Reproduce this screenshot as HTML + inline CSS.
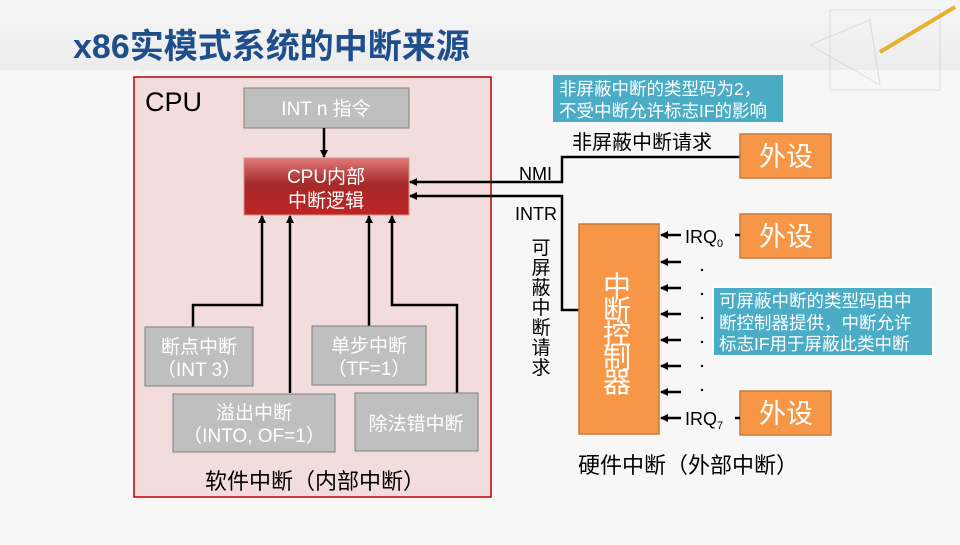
<!DOCTYPE html>
<html><head><meta charset="utf-8"><style>
html,body{margin:0;padding:0}
body{width:960px;height:540px;background:#f7f7f7;overflow:hidden;font-family:"Liberation Sans","Noto Sans CJK SC",sans-serif}
svg text{font-family:"Liberation Sans","Noto Sans CJK SC",sans-serif}
</style></head><body>
<svg width="960" height="540" viewBox="0 0 960 540" xmlns="http://www.w3.org/2000/svg">
<defs>
<linearGradient id="top" x1="0" y1="0" x2="0" y2="1"><stop offset="0" stop-color="#f6f6f6"/><stop offset="1" stop-color="#ececec"/></linearGradient>
<linearGradient id="red" x1="0" y1="0" x2="0" y2="1"><stop offset="0" stop-color="#e07a7a"/><stop offset="0.45" stop-color="#a52a2a"/><stop offset="1" stop-color="#c02424"/></linearGradient>
<marker id="ah" markerWidth="8" markerHeight="8" refX="7" refY="4" orient="auto" markerUnits="userSpaceOnUse"><path d="M0,0 L8,4 L0,8 z" fill="#000"/></marker>
</defs>
<rect x="0" y="0" width="960" height="70" fill="url(#top)"/>
<g opacity="0.25" stroke="#999" fill="none">
<path d="M810,45 L870,20 L880,85 z"/><rect x="830" y="10" width="110" height="80"/>
</g>
<line x1="880" y1="52" x2="955" y2="7" stroke="#e8b030" stroke-width="4"/>
<text x="73" y="58" font-size="34" font-weight="bold" fill="#1f4e8c">x86实模式系统的中断来源</text>

<rect x="134" y="77" width="357" height="420" fill="#f2dcdc" stroke="#c00000" stroke-width="1.5"/>
<text x="145" y="111" font-size="27" fill="#000">CPU</text>
<rect x="244" y="88" width="165" height="40" fill="#bfbfbf" stroke="#7f7f7f"/>
<text x="326" y="115" font-size="19" fill="#fff" text-anchor="middle">INT n 指令</text>
<line x1="324" y1="128" x2="324" y2="157" stroke="#000" stroke-width="2.5" marker-end="url(#ah)"/>
<rect x="244" y="158" width="165" height="57" fill="url(#red)" stroke="#d89090"/>
<text x="326" y="183" font-size="19" fill="#fff" text-anchor="middle">CPU内部</text>
<text x="326" y="207" font-size="19" fill="#fff" text-anchor="middle">中断逻辑</text>

<g stroke="#000" stroke-width="2.5" fill="none">
<polyline points="193,328 193,305 262,305 262,216" marker-end="url(#ah)"/>
<polyline points="290,393 290,216" marker-end="url(#ah)"/>
<polyline points="369,326 369,216" marker-end="url(#ah)"/>
<polyline points="457,393 457,305 392,305 392,216" marker-end="url(#ah)"/>
<polyline points="740,157 562,157 562,182 410,182" marker-end="url(#ah)"/>
<polyline points="579,310 562,310 562,196 410,196" marker-end="url(#ah)"/>
</g>

<g fill="#bfbfbf" stroke="#7f7f7f">
<rect x="145" y="327" width="108" height="59"/>
<rect x="312" y="326" width="114" height="59"/>
<rect x="173" y="394" width="162" height="58"/>
<rect x="355" y="393" width="123" height="58"/>
</g>
<g fill="#fff" font-size="19" text-anchor="middle">
<text x="199" y="353">断点中断</text><text x="199" y="376">（INT 3）</text>
<text x="369" y="352">单步中断</text><text x="369" y="375">（TF=1）</text>
<text x="254" y="419">溢出中断</text><text x="254" y="442">（INTO, OF=1）</text>
<text x="416" y="430">除法错中断</text>
</g>
<text x="315" y="489" font-size="22" text-anchor="middle" fill="#000">软件中断（内部中断）</text>

<text x="552" y="180" font-size="18" text-anchor="end">NMI</text>
<text x="557" y="220" font-size="18" text-anchor="end">INTR</text>
<g font-size="19" text-anchor="middle">
<text x="541" y="254">可</text><text x="541" y="274">屏</text><text x="541" y="294">蔽</text><text x="541" y="314">中</text><text x="541" y="334">断</text><text x="541" y="354">请</text><text x="541" y="374">求</text>
</g>
<text x="572" y="149" font-size="20">非屏蔽中断请求</text>

<rect x="553" y="75" width="230" height="47" fill="#4bacc6"/>
<text x="559" y="95" font-size="17.5" fill="#fff">非屏蔽中断的类型码为2，</text>
<text x="559" y="117" font-size="17.5" fill="#fff">不受中断允许标志IF的影响</text>

<g fill="#f79646" stroke="#c8783a" stroke-width="1.5">
<rect x="740" y="134" width="91" height="44"/>
<rect x="740" y="214" width="91" height="44"/>
<rect x="740" y="391" width="91" height="44"/>
<rect x="579" y="224" width="80" height="210"/>
</g>
<g fill="#fff" font-size="27" text-anchor="middle">
<text x="786" y="166">外设</text><text x="786" y="246">外设</text><text x="786" y="423">外设</text>
</g>
<g fill="#fff" font-size="28" text-anchor="middle">
<text x="617" y="296">中</text><text x="617" y="320">断</text><text x="617" y="344">控</text><text x="617" y="368">制</text><text x="617" y="392">器</text>
</g>

<g stroke="#000" stroke-width="2.5" fill="none">
<line x1="681" y1="235" x2="661" y2="235" marker-end="url(#ah)"/>
<line x1="681" y1="262" x2="661" y2="262" marker-end="url(#ah)"/>
<line x1="681" y1="288" x2="661" y2="288" marker-end="url(#ah)"/>
<line x1="681" y1="314" x2="661" y2="314" marker-end="url(#ah)"/>
<line x1="681" y1="340" x2="661" y2="340" marker-end="url(#ah)"/>
<line x1="681" y1="366" x2="661" y2="366" marker-end="url(#ah)"/>
<line x1="681" y1="392" x2="661" y2="392" marker-end="url(#ah)"/>
<line x1="681" y1="418" x2="661" y2="418" marker-end="url(#ah)"/>
<line x1="735" y1="235" x2="740" y2="235"/>
<line x1="735" y1="418" x2="740" y2="418"/>
</g>
<text x="685" y="243" font-size="18">IRQ<tspan font-size="11" dy="4">0</tspan></text>
<text x="685" y="425" font-size="18">IRQ<tspan font-size="11" dy="4">7</tspan></text>
<g fill="#000"><circle cx="702" cy="270" r="1.2"/><circle cx="702" cy="294" r="1.2"/><circle cx="702" cy="318" r="1.2"/><circle cx="702" cy="342" r="1.2"/><circle cx="702" cy="366" r="1.2"/><circle cx="702" cy="390" r="1.2"/></g>

<rect x="713" y="287" width="220" height="69" fill="#4bacc6" stroke="#fff" stroke-width="2"/>
<g fill="#fff" font-size="17.5">
<text x="719" y="307">可屏蔽中断的类型码由中</text>
<text x="719" y="329">断控制器提供，中断允许</text>
<text x="719" y="350">标志IF用于屏蔽此类中断</text>
</g>
<text x="578" y="473" font-size="22">硬件中断（外部中断）</text>
</svg>
</body></html>
